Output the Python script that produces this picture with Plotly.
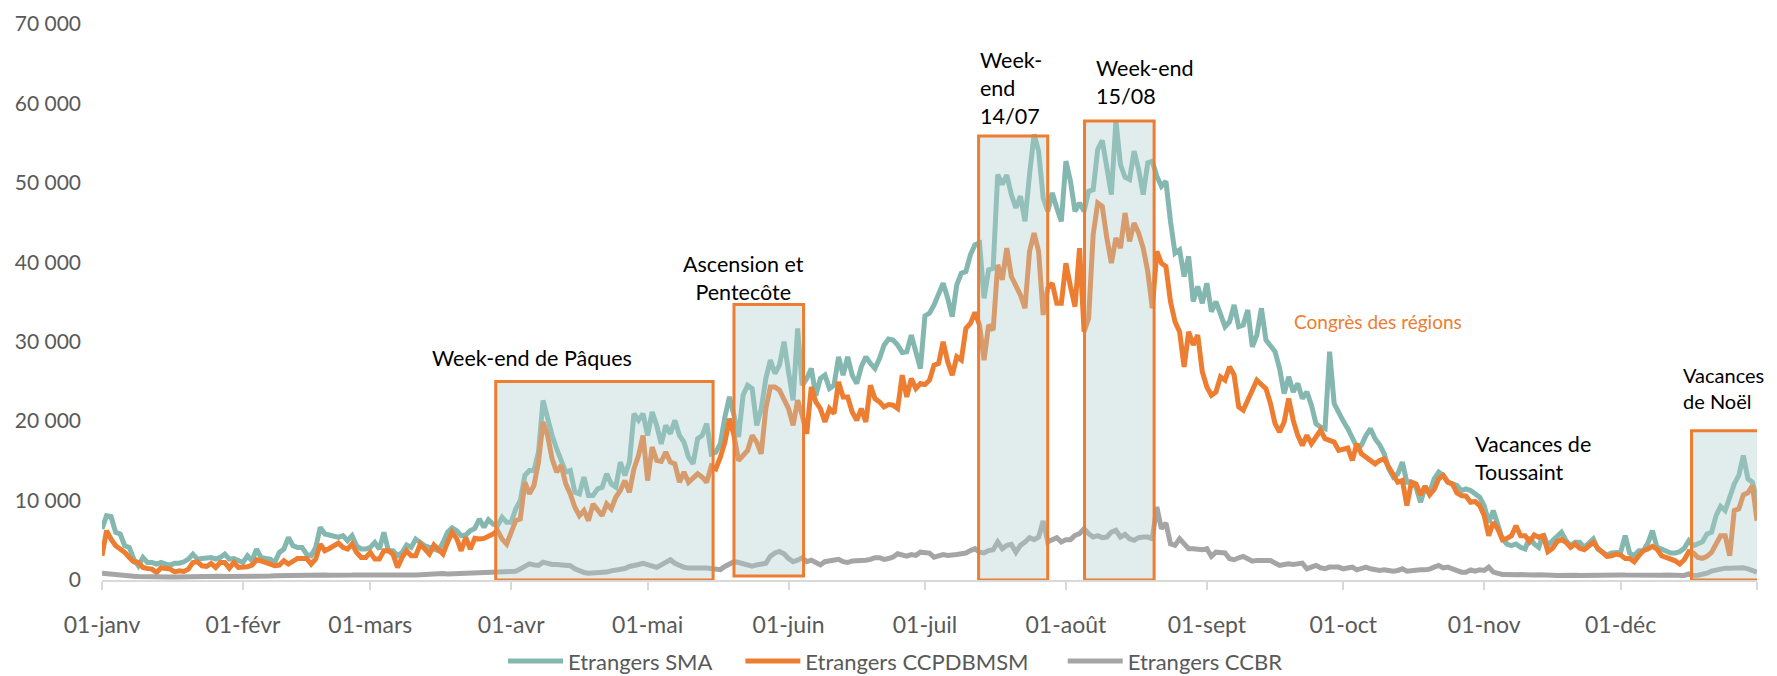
import pandas as pd
import plotly.graph_objects as go

# one value per day, 2019 (01-janv -> 31-déc), month by month
etrangers_sma = [
    6420, 8100, 7970, 6000, 5790, 4310, 4100, 2630, 1790, 2840, 2210, 2210, 2000, 2210, 2000, 1870,
    2120, 2120, 2290, 2630, 3260, 2630, 2710, 2800, 2840, 2630, 2840, 3260, 2630, 2710, 2420,
    2210, 3050, 2420, 3890, 2840, 2710, 2630, 2210, 3470, 3890, 5360, 4310, 4100, 4100, 3260, 3050,
    4100, 6630, 5790, 5660, 5580, 5360, 5580, 4950, 5580, 4310, 3890, 3890,
    4100, 4730, 3890, 6000, 3680, 3680, 3050, 3470, 4400, 4100, 5150, 4730, 4310, 4100, 3890, 3680,
    4730, 6000, 6550, 6210, 5580, 5660, 6210, 6500, 7680, 6630, 7600, 7050, 6840, 7890, 7260,
    7260, 8950, 10000, 13160, 13790, 13790, 16100, 22600, 20300, 18200, 16500, 14840, 13580, 13790, 11050,
    10840, 12950, 10630, 10630, 11470, 11680, 13370, 12100, 11680, 14840, 13160, 14840, 20940, 20100, 20940,
    18200, 21150, 19470, 17150, 19470, 18420, 20100, 18200, 17360, 15470, 14630, 17790, 18200, 19680, 15890,
    16100, 17150, 20520, 23050, 20730, 18000, 23260, 24520, 24100, 19470, 21580, 25360, 27680, 26000, 27050, 30000,
    26200, 22630, 31680, 24520, 25360, 26630, 23260, 25360, 25790, 24100, 24520, 28100, 25790, 28100, 25790,
    24730, 26840, 28100, 27260, 26630, 27890, 29570, 30330, 30200, 29570, 28650, 28730, 30840, 28730, 26630,
    33250, 33580, 34630, 36100, 37370, 35470, 33150, 37150, 38630, 38840, 40950, 42210, 42420, 35470, 39050,
    39260, 51050, 49790, 50970, 48520, 46840, 48310, 45150, 51050, 56100, 54000, 48100, 46420, 48730, 46840, 45150,
    52730, 50210, 46420, 47470, 46420, 48940, 49150, 54200, 55340, 52100, 48520, 57780, 52310, 50710, 50420,
    54000, 51680, 48520, 52520, 52730, 50840, 49570, 50210, 45150, 41150, 41570, 38210, 40740, 35050, 36950, 34840,
    37370, 33790, 35050, 33580, 31890, 32520, 34630, 31890, 32100, 34000, 29370, 30840, 34210, 30210, 29370,
    28740, 26630, 23470, 25580, 23680, 24740, 22840, 23680, 22000, 19680, 19260, 19050, 28740, 22210, 20950,
    20000, 19050, 18000, 16730, 16950, 18210, 19050, 17790, 17030, 15890, 14000, 12950, 13370, 14840, 12310,
    12310, 11680, 9790, 11680, 11050, 12730, 13580, 13160, 12310, 12100, 11900, 11260, 11470, 11260, 10840, 10420,
    9370, 7260, 8740, 6840, 5160, 4530, 4320, 4530, 4110, 3900, 5370, 4530, 4110, 5790, 4320,
    4950, 5580, 6000, 4950, 4320, 4740, 4740, 4110, 4740, 5160, 3900, 3480, 3140, 3390, 3480,
    3480, 5580, 3390, 3050, 3690, 3690, 4650, 6210, 4110, 3900, 3690, 3390, 3390, 3560, 3980,
    4950, 4320, 4530, 4820, 5790, 6000, 8110, 9280, 8740, 10630, 12100, 13160, 15680, 12740, 12310, 10000,
]

etrangers_ccpdbmsm = [
    3050, 6210, 5150, 4310, 3890, 3470, 2840, 2290, 2210, 1580, 1450, 1370, 950, 1540, 1450, 1370,
    1030, 1160, 1070, 1370, 2210, 2290, 1790, 1700, 2080, 1580, 2210, 2210, 1490, 2210, 1580,
    1580, 1660, 1870, 2540, 2420, 2210, 1960, 1790, 1870, 2420, 2000, 2420, 2710, 2710, 2710, 2000,
    2630, 4520, 3680, 3970, 4310, 4650, 4100, 3890, 4520, 3470, 2840, 2840,
    3470, 2630, 2630, 3680, 3680, 3260, 1580, 2840, 3680, 3050, 3050, 4520, 3890, 3260, 4400, 3890,
    3260, 4730, 6000, 5240, 3680, 5360, 3890, 5240, 5150, 5240, 5490, 5790, 6210, 5150, 4520,
    6000, 7470, 7680, 12310, 10840, 11890, 14840, 19890, 18200, 15260, 13580, 14420, 12100, 10840, 9160,
    8100, 8740, 7470, 9580, 8950, 8100, 9580, 8950, 10420, 11260, 12520, 11050, 14000, 15680, 18200,
    12520, 16730, 15050, 14920, 16100, 14840, 14630, 12310, 13580, 12310, 12950, 13370, 12950, 12310, 14330,
    14000, 15470, 17360, 20310, 18200, 15050, 15680, 16310, 18200, 17360, 15890, 21580, 24310, 24310, 23890, 22840,
    21580, 19470, 22630, 20730, 18420, 24310, 22420, 21580, 19890, 21580, 20940, 24940, 23050, 23050, 21150,
    20100, 21580, 19890, 24520, 22840, 22420, 21790, 22080, 22000, 21580, 25790, 23050, 25360, 24100, 24730,
    24600, 25150, 27050, 27260, 30000, 27470, 25790, 28100, 27680, 31680, 32310, 33700, 32100, 27680, 32100,
    31470, 39680, 37790, 41790, 38210, 37150, 35890, 34210, 41370, 43680, 41370, 33370, 36730, 37370, 34840, 34840,
    39890, 36940, 34420, 41790, 31260, 32950, 43470, 47470, 47050, 43050, 39890, 43050, 41790, 46210, 42630,
    44940, 43680, 41790, 38840, 34210, 41370, 39890, 39470, 35050, 32520, 31260, 26840, 31260, 29580, 30840, 26210,
    24310, 23260, 23680, 25580, 25160, 26840, 25790, 21790, 21370, 22630, 23890, 25160, 24610, 24100, 22210,
    19680, 18630, 19890, 22840, 20100, 18210, 16950, 18210, 17160, 18000, 18840, 17790, 17580, 17370, 16320,
    16400, 16610, 15050, 17160, 15890, 15470, 15050, 14630, 15050, 15260, 14210, 13370, 12310, 12530, 9370,
    12310, 12100, 10720, 11810, 10720, 11390, 12740, 13160, 12310, 12100, 10970, 10630, 10550, 9790, 9880, 9370,
    8110, 5580, 7260, 6420, 5080, 5240, 5580, 6840, 5580, 5580, 4820, 5660, 5370, 5580, 3560,
    3980, 4820, 5080, 4740, 4110, 4530, 3980, 3810, 4320, 4740, 3980, 3480, 2970, 3050, 3260,
    3140, 2720, 2720, 2300, 3050, 3690, 3900, 4230, 3900, 3050, 2840, 2630, 2420, 2000, 2550,
    3560, 3390, 2840, 2720, 2970, 3480, 4530, 5580, 5580, 3050, 8740, 8950, 10720, 10970, 11900, 7470,
]

etrangers_ccbr = [
    850, 780, 700, 640, 600, 560, 520, 480, 450, 420, 400, 380, 370, 360, 360, 370,
    380, 400, 420, 430, 440, 420, 410, 420, 430, 450, 460, 440, 430, 420, 430,
    450, 470, 500, 480, 460, 470, 500, 520, 540, 560, 540, 520, 500, 510, 530, 560,
    580, 600, 620, 600, 580, 560, 580, 600, 620, 640, 620, 600,
    620, 600, 580, 600, 620, 640, 600, 580, 600, 620, 640, 680, 700, 720, 740, 900,
    820, 760, 780, 800, 820, 760, 800, 840, 860, 880, 900, 920, 940, 960, 1000,
    1050, 1100, 1400, 1700, 2040, 1900, 1830, 2250, 2050, 1950, 1950, 1950, 1900, 1800, 1400,
    1100, 950, 860, 860, 860, 860, 1000, 1150, 1200, 1250, 1450, 1700, 1750, 1950, 2100,
    1900, 1700, 1600, 1900, 2250, 2550, 2100, 1800, 1600, 1500, 1450, 1450, 1500, 1500, 1400,
    1300, 1300, 1700, 2000, 2300, 2200, 2000, 1800, 1750, 1900, 2000, 2100, 3000, 3400, 3600, 3300,
    2700, 2300, 2500, 2800, 2300, 2500, 2200, 1900, 2300, 2400, 2500, 2600, 2300, 2200, 2400,
    2400, 2500, 2500, 2600, 2800, 2800, 2600, 2700, 2900, 3300, 3100, 3000, 3200, 3100, 3500,
    3520, 3390, 2880, 3100, 3200, 3100, 3100, 3200, 3300, 3400, 3700, 3940, 3500, 3400, 3700,
    3800, 4780, 3940, 4360, 4480, 3500, 4360, 4780, 5330, 5080, 5410, 7430, 4780, 5080, 5330, 4780,
    5080, 5080, 5620, 5830, 6460, 5830, 5410, 5580, 5330, 5410, 6040, 6250, 5410, 5750, 5200,
    5000, 5330, 5410, 5410, 5200, 9200, 6460, 7170, 4560, 4360, 5200, 4560, 3940, 3940, 3800, 3800,
    3940, 2970, 3500, 3500, 3400, 2680, 2550, 2800, 2970, 2680, 2380, 2470, 2470, 2550, 2470,
    2130, 1840, 1960, 2050, 1960, 2050, 2130, 1420, 1630, 1840, 1540, 1420, 1630, 1630, 1630,
    1410, 1490, 1620, 1280, 1530, 1620, 1410, 1280, 1200, 1280, 1200, 1110, 1200, 1410, 1110,
    1200, 1200, 1280, 1280, 1370, 1620, 1830, 1530, 1620, 1410, 1200, 990, 990, 1280, 1110, 1280,
    1200, 1620, 990, 780, 690, 690, 620, 650, 690, 640, 600, 620, 650, 680, 640,
    600, 580, 620, 660, 640, 600, 580, 600, 620, 650, 640, 600, 580, 600, 620,
    640, 620, 600, 580, 600, 640, 620, 600, 580, 600, 620, 640, 610, 590, 570,
    780, 570, 600, 680, 860, 1110, 1280, 1410, 1490, 1490, 1530, 1620, 1530, 1410, 1280, 990,
]

dates = pd.date_range("2019-01-01", "2019-12-31", freq="D")

month_ticks = ["2019-01-01", "2019-02-01", "2019-03-01", "2019-04-01", "2019-05-01", "2019-06-01",
               "2019-07-01", "2019-08-01", "2019-09-01", "2019-10-01", "2019-11-01", "2019-12-01",
               "2019-12-31"]
month_labels = ["01-janv", "01-févr", "01-mars", "01-avr", "01-mai", "01-juin",
                "01-juil", "01-août", "01-sept", "01-oct", "01-nov", "01-déc", ""]

y_ticks = [0, 10000, 20000, 30000, 40000, 50000, 60000, 70000]
y_labels = ["0", "10 000", "20 000", "30 000", "40 000", "50 000", "60 000", "70 000"]

# highlighted periods: (start day, end day, top value, bottom value)
periods = [
    (86.6, 134.4, 25000, 0),
    (139.0, 154.3, 34700, 500),
    (192.8, 208.0, 55900, 0),
    (216.1, 231.4, 57800, 0),
    (349.6, 365.0, 18800, 0),
]

TEAL = "#84B7AF"
ORANGE = "#ED7D31"
GREY = "#A5A5A5"
TXT = "#595959"
FONT = "Lato"


def day(d):
    return pd.Timestamp("2019-01-01") + pd.Timedelta(days=d)


series = [
    ("Etrangers SMA", etrangers_sma, TEAL, "legend"),
    ("Etrangers CCPDBMSM", etrangers_ccpdbmsm, ORANGE, "legend2"),
    ("Etrangers CCBR", etrangers_ccbr, GREY, "legend3"),
]

fig = go.Figure()
for name, values, color, leg in series:
    fig.add_trace(go.Scatter(x=dates, y=values, name=name, mode="lines", legend=leg,
                             line=dict(color=color, width=5)))

for x0, x1, top, bottom in periods:
    fig.add_shape(type="rect", xref="x", yref="y", x0=day(x0), x1=day(x1), y0=bottom, y1=top,
                  fillcolor="rgba(175,208,208,0.38)", line=dict(color=ORANGE, width=3), layer="above")

notes = [
    ("Week-end de Pâques", 94.6, 27900, "center", "black", 21.5),
    ("Ascension et<br>Pentecôte", 141.2, 38000, "center", "black", 21.5),
    ("Week-<br>end<br>14/07", 192.8, 61900, "left", "black", 21.5),
    ("Week-end<br>15/08", 218.4, 62700, "left", "black", 21.5),
    ("Congrès des régions", 280.7, 32600, "center", ORANGE, 19),
    ("Vacances de<br>Toussaint", 301.7, 15400, "left", "black", 21.5),
    ("Vacances<br>de Noël", 347.6, 24150, "left", "black", 20),
]
for text, d, v, anchor, color, size in notes:
    fig.add_annotation(x=day(d), y=v, xref="x", yref="y", text=text, showarrow=False,
                       xanchor=anchor, yanchor="middle", align=anchor, borderpad=0,
                       font=dict(family=FONT, size=size, color=color))

fig.update_xaxes(range=[dates[0], dates[-1]], tickvals=month_ticks, ticktext=month_labels,
                 ticks="outside", ticklen=8, tickwidth=1.5, tickcolor="#D9D9D9",
                 showline=True, linecolor="#D9D9D9", linewidth=1.5, showgrid=False, zeroline=False,
                 ticklabelstandoff=16, automargin=False,
                 tickfont=dict(family=FONT, size=23, color=TXT))
fig.update_yaxes(range=[0, 70000], tickvals=y_ticks, ticktext=y_labels, showgrid=False,
                 zeroline=False, showline=False, ticklabelstandoff=20, automargin=False,
                 tickfont=dict(family=FONT, size=21, color=TXT))

legend_style = dict(orientation="h", y=-0.146, yanchor="middle", xanchor="left",
                    font=dict(family=FONT, size=22, color=TXT), itemwidth=55,
                    bgcolor="rgba(0,0,0,0)")

# the page body adds an 8px margin, so the figure is drawn 8px smaller
fig.update_layout(
    width=1769, height=668,
    margin=dict(l=94, r=20, t=16, b=96, autoexpand=False),
    paper_bgcolor="white", plot_bgcolor="white",
    showlegend=True,
    legend=dict(x=0.2423, **legend_style),
    legend2=dict(x=0.3857, **legend_style),
    legend3=dict(x=0.5805, **legend_style),
)

fig.write_html("out.html")
